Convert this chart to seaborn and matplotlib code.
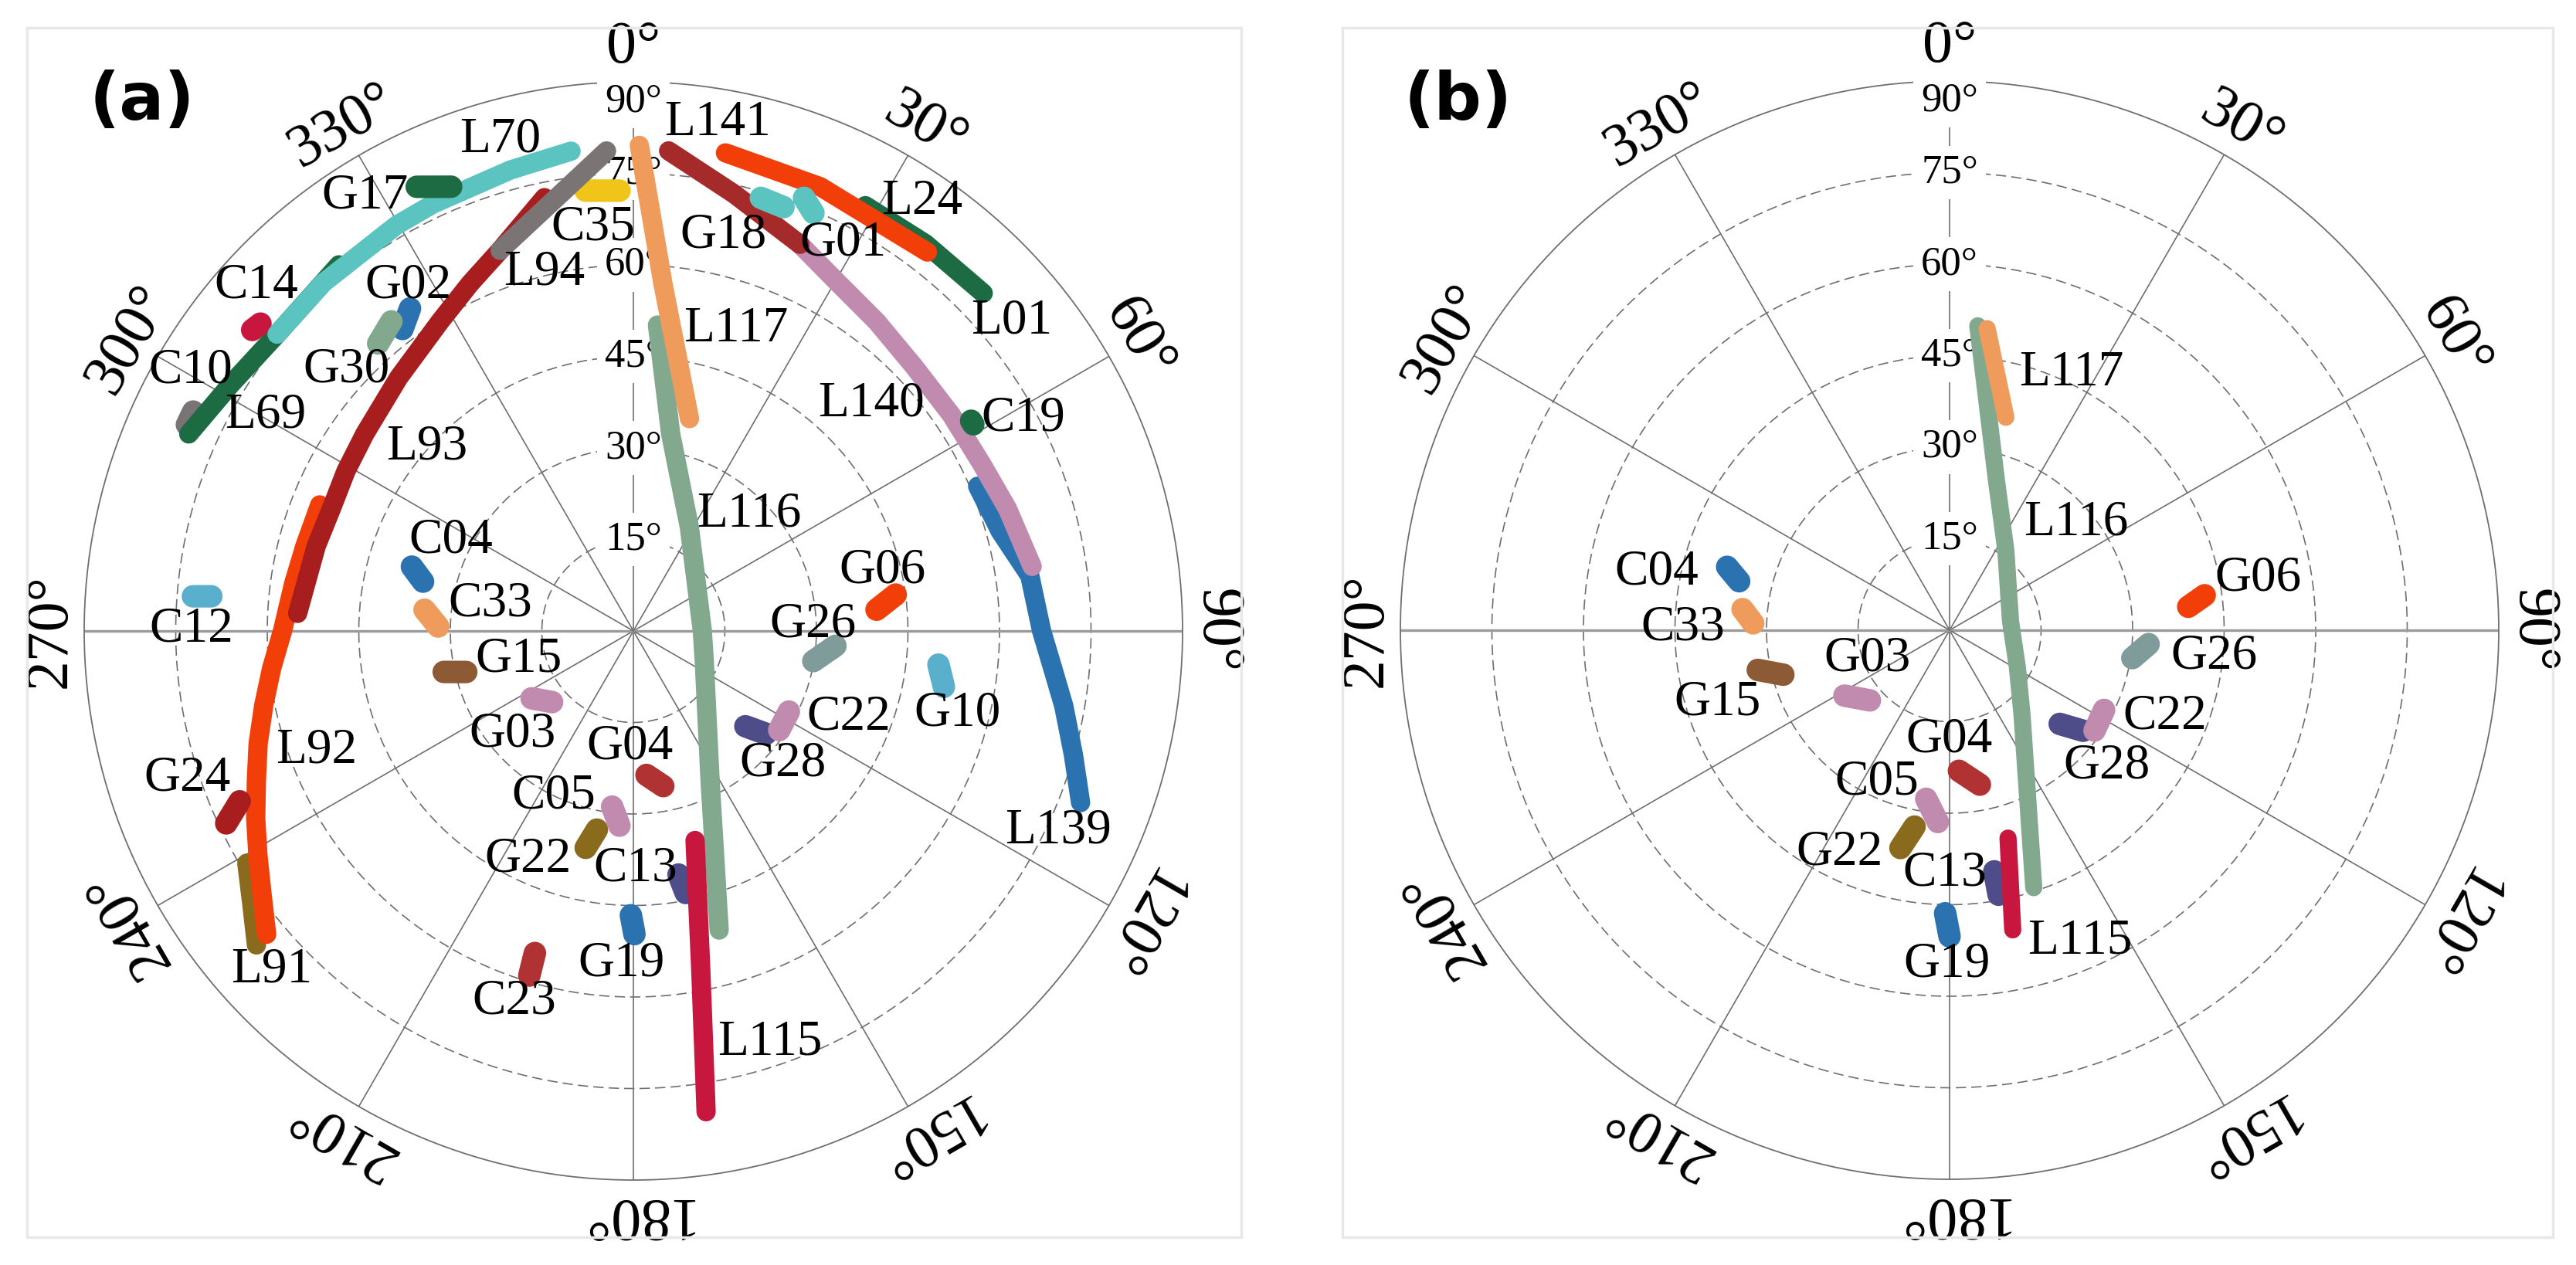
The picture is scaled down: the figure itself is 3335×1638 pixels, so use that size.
import numpy as np
import matplotlib
matplotlib.use("Agg")
import matplotlib.pyplot as plt
from matplotlib.patches import Rectangle
import seaborn as sns

# === data: satellite tracks (azimuth deg, radial value) ===
# panel (a), listed in drawing order
A_SATS = ["C10", "L69", "C14", "L70", "G17", "C35", "L91", "L92", "L93", "L94",
          "G24", "C12", "G02", "G30", "C04", "C33", "L116", "L117", "L139", "L140",
          "L141", "L01", "L24", "G18", "G01", "C19", "G06", "G26", "G10", "G28",
          "C22", "G04", "C13", "L115", "G19", "C23", "G22", "C05", "G03", "G15"]
A_AZ = [[294.8, 296.5], [321.2, 309.8, 301.4, 293.9], [308.3, 309.5],
        [352.6, 345.1, 334.9, 329.7, 318.3, 309.8], [334, 337.7], [353.8, 358.2],
        [239, 234.4, 230.2],
        [291.9, 284.5, 278.0, 272.9, 270, 264.1, 258.6, 253.3, 248.3, 243.6,
         239.1, 234.8, 230.4],
        [348.4, 340.7, 334.8, 328.0, 317.2, 306.3, 299.1, 292.1, 285.0, 273],
        [356.8, 349.3, 340.7],
        [246.6, 244.7], [274.5, 274.7], [325.3, 322.6], [322, 318.4],
        [286.2, 283.2], [275.8, 271.3],
        [4.5, 10.7, 28.4, 66.3, 90, 112.8, 152.9, 164], [0.7, 4.9, 14.8],
        [67.2, 74.8, 82.1, 90, 95.1, 99.9, 105.7, 111],
        [23.3, 30.7, 38.2, 46.7, 55.8, 64.3, 71.9, 80.8],
        [4.2, 13, 23.3], [28.6, 37, 46], [10.9, 22.8, 37.8], [16.4, 19.5],
        [21.5, 23.3], [58.1, 58.7], [85, 82.1], [99.5, 94.2], [96.3, 100.2],
        [130.4, 127.8], [117.4, 124.2], [174.8, 169.1], [169.5, 168.7],
        [163.6, 168.7, 171.4], [180.5, 179.8], [197, 196.8], [190.4, 192.4],
        [186.9, 184.1], [236.5, 228.8], [257.8, 256.2]]
A_R = [[80.6, 80.6], [77.0, 76.0, 77.4, 79.7], [79.6, 79.2],
       [79.3, 78.2, 77.3, 77.0, 76.4, 76.0], [81, 78.7], [72.6, 72.2],
       [73.9, 76.9, 80.4],
       [55.4, 55.6, 56.2, 56.9, 57.5, 59.6, 61.8, 64.2, 66.5, 69.1,
        71.7, 74.5, 78.0],
       [72.5, 66.1, 62.9, 59.8, 56.6, 54.6, 53.9, 53.4, 53.8, 55.1],
       [78.8, 71.6, 66.1],
       [70.3, 73.8], [72.4, 69.4], [64.3, 62.3], [64.4, 63],
       [37.8, 35.4], [34.4, 32],
       [50.3, 32.9, 19.3, 11.7, 11.3, 12.6, 27.6, 51], [79.6, 57, 36],
       [61.2, 62.3, 65.6, 66.9, 69.0, 71.6, 74.9, 78.5],
       [69.0, 66.1, 64.5, 63.2, 63.0, 63.3, 64.5, 66.2],
       [78.9, 73.5, 69], [79.4, 79.5, 79.7], [79.8, 79, 78.6], [74, 73.7],
       [76.3, 74.6], [65.2, 65.2], [40, 43.4], [29.9, 33.2], [50.3, 51.7],
       [24.1, 27.5], [28.7, 28.9], [23.7, 25.9], [40.6, 43.8],
       [35.8, 56.3, 79.7], [46.6, 49.7], [55.2, 59], [33.1, 36.4],
       [29, 32], [20, 17.7], [31.8, 28.2]]

# panel (b)
B_SATS = ["C04", "C33", "G15", "G03", "L116", "L117", "G04", "C05", "G22",
          "C13", "L115", "G19", "G06", "G26", "G28", "C22"]
B_AZ = [[285.9, 283.1], [275.8, 272], [258.3, 255], [238.1, 228.6],
        [5.3, 17.4, 35.2, 81.3, 118.9, 139.3, 161.9], [7.1, 14.8],
        [176.2, 168.9], [187.9, 183.5], [190.1, 192.7], [169.5, 169.5],
        [164.3, 168.1], [180.9, 180], [84.4, 82.2], [98.7, 94],
        [130.4, 127], [117.3, 124.7]]
B_R = [[37.9, 35.4], [34.1, 32.2], [32.1, 28.2], [20.3, 17.4],
       [50.1, 25.7, 16, 10.1, 12.7, 18.2, 44.4], [49.8, 36.1],
       [23.1, 25.8], [27.9, 31.5], [32.7, 36.6], [40.2, 44.1],
       [35.4, 50.2], [46.4, 50.2], [39.3, 42.2], [30.3, 32.7],
       [23.7, 27.4], [28.5, 28.9]]

AZ_TICKS = [0, 30, 60, 90, 120, 150, 180, 210, 240, 270, 300, 330]
EL_TICKS = [15, 30, 45, 60, 75, 90]

# === styles ===
COLORS = {
    "L70": "#5BC3C0", "G18": "#5BC3C0", "G01": "#5BC3C0",
    "L69": "#1D6B42", "G17": "#1D6B42", "L01": "#1D6B42", "C19": "#1D6B42",
    "C14": "#C8173F", "L115": "#C8173F",
    "C10": "#7B7475", "L94": "#7B7475",
    "C35": "#F0C419",
    "L93": "#A81E1E", "G24": "#A81E1E", "L141": "#A52A2A",
    "G04": "#B03232", "C23": "#B03232",
    "L92": "#F23F0A", "L24": "#F23F0A", "G06": "#F23F0A",
    "L91": "#8A6A1C", "G22": "#8A6A1C",
    "C12": "#5AB0CC", "G10": "#5AB0CC",
    "G02": "#2B73B0", "C04": "#2B73B0", "L139": "#2B73B0", "G19": "#2B73B0",
    "G30": "#82A98D", "L116": "#82A98D",
    "L117": "#EE9B5B", "C33": "#EE9B5B",
    "L140": "#C08BAF", "C22": "#C08BAF", "C05": "#C08BAF", "G03": "#C08BAF",
    "G15": "#8C5A35", "G26": "#7F9B9A",
    "G28": "#4E4D8A", "C13": "#4E4D8A",
}

# label anchor points (azimuth deg, radial value)
LABELS_A = {
    "L70": (344.8, 83.4), "G17": (328.3, 83.8), "C35": (354.3, 66.4),
    "L94": (346.1, 60.5), "C14": (312.5, 83.8), "G02": (326.9, 67.6),
    "C10": (300.5, 84.2), "G30": (312.3, 63.6), "L69": (300.4, 69.9),
    "L93": (311.7, 45.4), "C04": (296.4, 33.4), "C33": (280.7, 23.9),
    "C12": (270.2, 72.4), "L141": (9.4, 84.4), "L24": (33.9, 84.8),
    "G18": (12.8, 66.5), "G01": (28.4, 72.3), "L01": (50.7, 80.1),
    "L117": (18.8, 52.3), "L140": (46.3, 53.9), "C19": (61.4, 72.7),
    "L116": (44.8, 27.0), "G06": (76.3, 42.0), "G26": (88.0, 29.5),
    "C22": (111.8, 38.0), "G10": (104.3, 54.8), "G28": (131.6, 32.8),
    "L139": (115.2, 77.0), "L115": (161.6, 71.1), "G15": (256.3, 19.4),
    "G03": (229.5, 26.0), "G04": (181.9, 19.0), "L92": (249.3, 55.5),
    "G24": (251.7, 77.0), "C05": (205.7, 30.0), "G22": (204.8, 41.2),
    "C13": (179.4, 39.0), "L91": (226.9, 81.2), "G19": (182.0, 54.6),
    "C23": (197.8, 63.8),
}
LABELS_B = {
    "L117": (25.3, 46.6), "L116": (49.6, 27.2), "C04": (281.3, 48.9),
    "C33": (270.5, 43.7), "G15": (252.6, 39.8), "G03": (251.1, 14.2),
    "G04": (180.0, 18.0), "C05": (205.5, 27.6), "G22": (206.3, 40.6),
    "C13": (181.1, 39.9), "G19": (180.4, 54.8), "L115": (157.2, 55.3),
    "G06": (80.5, 51.3), "G26": (95.6, 43.5), "C22": (111.9, 38.0),
    "G28": (130.9, 34.0),
}

sns.set_theme(style="white")
plt.rcParams["font.family"] = ["Liberation Serif", "DejaVu Serif"]
plt.rcParams["text.color"] = "black"

fig = plt.figure(figsize=(33.35, 16.38), dpi=100)
fig.patch.set_facecolor("white")

GRID = "#6f6f6f"


def draw_panel(rect, sats, az_list, r_list, labels, tag, tag_xy, long_lw, short_lw):
    ax = fig.add_axes(rect, projection="polar")
    ax.set_theta_zero_location("N")
    ax.set_theta_direction(-1)
    ax.set_facecolor("white")
    ax.grid(False)

    # rings and spokes
    ring_t = np.linspace(0, 2 * np.pi, 361)
    for v in EL_TICKS[:-1]:
        ax.plot(ring_t, np.full_like(ring_t, v), color=GRID, lw=1.2,
                ls=(0, (8, 4)), zorder=1)
    for a in AZ_TICKS:
        lw = 2.4 if a in (90, 270) else 1.2
        col = "#9a9a9a" if a in (90, 270) else GRID
        ax.plot([np.deg2rad(a)] * 2, [0, 90], color=col, lw=lw, zorder=1)
    ax.spines["polar"].set_color(GRID)
    ax.spines["polar"].set_linewidth(1.3)
    ax.spines["polar"].set_zorder(1.5)

    # tracks
    for name, az, r in zip(sats, az_list, r_list):
        lw = long_lw if name.startswith("L") else short_lw
        sns.lineplot(x=np.deg2rad(az), y=r, ax=ax, color=COLORS[name],
                     linewidth=lw, sort=False, estimator=None,
                     solid_capstyle="round", zorder=3, legend=False)

    ax.set_ylim(0, 90)
    ax.set_xticks([])
    ax.set_yticks([])
    ax.set_xlabel("")
    ax.set_ylabel("")

    # elevation labels
    for v in EL_TICKS:
        rr = 86.8 if v == 90 else v
        ax.text(0, rr, f"{v}°", ha="center", va="center", fontsize=38,
                zorder=2, bbox=dict(fc="white", ec="none",
                                    boxstyle="square,pad=0.2"))

    # azimuth labels
    for a in AZ_TICKS:
        ax.text(np.deg2rad(a), 95.5, f"{a}°", ha="center", va="center",
                rotation=-a, rotation_mode="anchor", fontsize=56, zorder=5,
                clip_on=False)

    # satellite labels
    for name, (a, rr) in labels.items():
        ax.text(np.deg2rad(a), rr, name, ha="center", va="center",
                fontsize=47, zorder=5)

    fig.text(tag_xy[0], tag_xy[1], tag, ha="center", va="center",
             fontsize=62, fontweight="bold", family="DejaVu Sans", color="black")
    return ax


W, H = 3335, 1638
R = 711
ca = (820, 817)
cb = (2524, 816)
rect_a = [(ca[0] - R) / W, (H - ca[1] - R) / H, 2 * R / W, 2 * R / H]
rect_b = [(cb[0] - R) / W, (H - cb[1] - R) / H, 2 * R / W, 2 * R / H]

draw_panel(rect_a, A_SATS, A_AZ, A_R, LABELS_A, "(a)", (184 / W, 1 - 131 / H), 18, 21)
draw_panel(rect_b, B_SATS, B_AZ, B_R, LABELS_B, "(b)", (1888 / W, 1 - 131 / H), 16, 21)

# light frames around each panel
for x0, x1 in [(35, 1607), (1738, 3305)]:
    fig.add_artist(Rectangle((x0 / W, 1 - 1602 / H), (x1 - x0) / W, 1566 / H,
                             transform=fig.transFigure, fill=False,
                             ec="#e8e8e8", lw=2.5))

fig.savefig("out.png", dpi=100, facecolor="white")
